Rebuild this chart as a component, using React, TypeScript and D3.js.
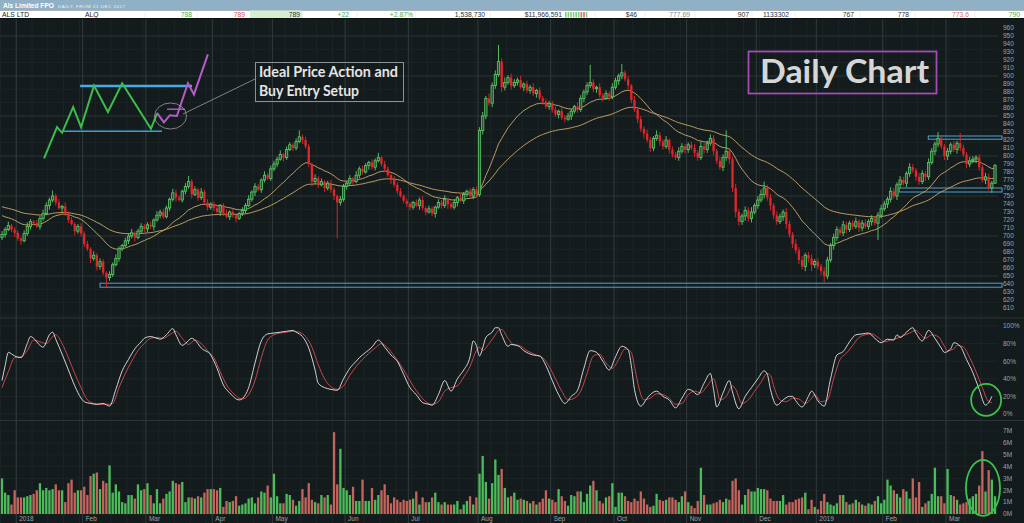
import * as d3 from "d3";

// ---- data ----
// first trading-day index of each month
const monthLabels = ["2018", "Feb", "Mar", "Apr", "May", "Jun", "Jul", "Aug", "Sep", "Oct", "Nov", "Dec", "2019", "Feb", "Mar"];
const monthStarts = [5, 26, 46, 67, 86, 109, 129, 151, 174, 194, 217, 239, 258, 279, 299];

const firstOpen = 698;
const closes = [
  // Dec 2017
  702, 708, 713, 708, 704,
  // Jan
  697, 694, 703, 712, 718, 716, 712, 722, 728, 738, 745, 750, 742, 735, 737, 728, 720, 715, 706, 712, 703,
  // Feb
  690, 684, 672, 676, 662, 668, 654, 648, 652, 664, 672, 684, 688, 694, 700, 704, 698, 706, 712, 709,
  // Mar
  714, 712, 720, 726, 730, 724, 735, 746, 754, 748, 745, 756, 762, 768, 752, 758, 748, 755, 742, 736, 740,
  // Apr
  735, 730, 738, 728, 724, 730, 726, 722, 728, 732, 738, 746, 755, 762, 758, 770, 776, 772, 784,
  // May
  790, 796, 802, 798, 808, 814, 810, 818, 824, 820, 812, 790, 768, 772, 764, 768, 760, 766, 758, 750, 742, 746, 762,
  // Jun
  766, 772, 768, 776, 784, 780, 788, 792, 786, 794, 798, 790, 784, 776, 770, 764, 756, 750, 744, 740,
  // Jul
  736, 742, 738, 745, 735, 730, 734, 728, 736, 742, 738, 746, 740, 736, 742, 748, 744, 752, 756, 750, 758, 752,
  // Aug
  832, 850, 872, 866, 888, 902, 918, 886, 892, 898, 888, 892, 895, 886, 890, 882, 886, 878, 882, 872, 868, 862, 866,
  // Sep
  858, 852, 856, 848, 846, 850, 856, 862, 858, 872, 880, 888, 892, 884, 886, 876, 872, 878, 874, 886,
  // Oct
  894, 900, 904, 896, 888, 870, 858, 846, 834, 828, 820, 810, 822, 826, 818, 812, 820, 808, 802, 798, 806, 812, 808,
  // Nov
  814, 810, 804, 798, 812, 808, 816, 822, 806, 794, 786, 798, 806, 796, 760, 730, 718, 725, 732, 722, 730, 738,
  // Dec
  745, 752, 760, 748, 738, 726, 718, 724, 730, 715, 702, 690, 682, 670, 662, 676, 672, 664, 668,
  // Jan 2019
  662, 656, 650, 670, 688, 698, 708, 704, 714, 708, 716, 712, 718, 710, 716, 712, 718, 722, 716, 726, 734,
  // Feb
  740, 746, 756, 750, 764, 770, 766, 778, 786, 782, 774, 768, 778, 774, 792, 806, 815, 822, 812, 800,
  // Mar
  806, 814, 808, 816, 810, 802, 790, 794, 796, 798, 786, 770, 774, 760, 766, 788,
];

// wick length above / below the candle body, in price units
const wickUp = [
  4, 3, 5, 2, 3,
  3, 2, 4, 5, 3, 2, 4, 3, 5, 4, 3, 7, 3, 4, 2, 5, 3, 4, 2, 3, 4,
  3, 4, 2, 5, 3, 4, 3, 2, 4, 3, 5, 3, 2, 4, 3, 5, 2, 3, 4, 3,
  3, 4, 2, 5, 3, 4, 3, 2, 5, 4, 3, 2, 4, 7, 3, 4, 2, 5, 3, 4, 2,
  3, 4, 2, 3, 5, 2, 4, 3, 2, 4, 3, 5, 2, 4, 3, 2, 5, 3, 4,
  4, 3, 5, 2, 4, 3, 2, 4, 8, 3, 4, 3, 2, 5, 3, 4, 2, 3, 4, 3, 2, 4, 3,
  3, 4, 2, 5, 3, 4, 3, 2, 4, 3, 6, 2, 4, 3, 2, 5, 3, 4, 2, 3,
  3, 2, 4, 3, 5, 2, 4, 3, 2, 4, 3, 5, 2, 3, 4, 2, 5, 3, 2, 4, 3, 4,
  4, 5, 3, 6, 4, 5, 21, 4, 6, 3, 5, 4, 3, 5, 2, 4, 3, 5, 2, 4, 3, 4, 3,
  3, 4, 2, 5, 3, 4, 3, 2, 5, 4, 3, 4, 22, 4, 2, 5, 3, 4, 3, 5,
  4, 3, 11, 3, 4, 2, 5, 3, 4, 3, 5, 4, 3, 6, 4, 3, 5, 2, 4, 3, 5, 4, 3,
  3, 4, 5, 3, 6, 4, 3, 5, 4, 3, 5, 4, 26, 4, 3, 5, 4, 3, 5, 4, 6, 3,
  5, 6, 8, 4, 5, 3, 5, 4, 3, 5, 4, 3, 6, 4, 5, 3, 4, 5, 3,
  4, 3, 5, 4, 3, 5, 4, 3, 5, 4, 3, 4, 5, 3, 4, 5, 3, 4, 3, 4, 5,
  4, 3, 5, 4, 3, 5, 4, 3, 5, 4, 3, 5, 4, 3, 5, 4, 3, 8, 4, 3,
  4, 3, 5, 3, 13, 4, 3, 5, 4, 3, 4, 3, 5, 4, 3, 2,
];
const wickDown = [
  3, 4, 2, 3, 5,
  3, 5, 2, 3, 4, 3, 2, 4, 3, 2, 5, 3, 4, 2, 5, 3, 4, 2, 5, 3, 4,
  4, 3, 6, 3, 5, 4, 3, 12, 4, 3, 2, 4, 3, 2, 4, 3, 5, 2, 3, 4,
  4, 3, 5, 2, 4, 3, 2, 4, 3, 5, 2, 3, 4, 3, 5, 2, 4, 3, 2, 4, 3,
  4, 2, 5, 3, 2, 4, 3, 5, 2, 3, 4, 2, 3, 5, 2, 4, 3, 2, 3,
  3, 4, 2, 5, 3, 2, 4, 3, 2, 5, 3, 4, 6, 3, 4, 2, 5, 3, 4, 5, 45, 4, 3,
  4, 3, 5, 2, 4, 3, 2, 5, 3, 4, 2, 3, 4, 2, 5, 3, 4, 2, 3, 4,
  4, 3, 2, 5, 3, 4, 2, 3, 5, 2, 4, 3, 6, 2, 3, 5, 2, 4, 3, 2, 4, 3,
  3, 5, 4, 3, 5, 4, 3, 6, 4, 3, 5, 3, 4, 2, 5, 3, 4, 3, 5, 2, 4, 3, 4,
  4, 3, 5, 3, 4, 2, 5, 3, 4, 3, 5, 4, 3, 4, 5, 3, 4, 2, 5, 3,
  3, 5, 4, 3, 5, 4, 3, 5, 4, 6, 3, 5, 4, 3, 5, 4, 3, 5, 4, 3, 4, 3, 5,
  4, 3, 5, 4, 3, 5, 4, 3, 5, 4, 3, 5, 4, 6, 5, 7, 5, 4, 6, 4, 5, 3,
  4, 3, 5, 4, 6, 5, 4, 3, 5, 6, 4, 5, 4, 5, 4, 6, 5, 8, 4,
  4, 5, 8, 4, 3, 5, 4, 3, 4, 5, 3, 4, 3, 5, 4, 3, 4, 5, 3, 21, 4,
  3, 5, 4, 3, 5, 4, 3, 5, 4, 3, 5, 4, 3, 5, 4, 3, 5, 4, 3, 5,
  5, 4, 3, 5, 4, 3, 5, 4, 3, 5, 4, 3, 5, 3, 6, 1,
];

// volume, millions of shares
const volumes = [
  3.0, 1.8, 1.6, 0.8, 2.0,
  1.4, 1.4, 1.4, 1.5, 1.6, 1.7, 2.0, 2.6, 2.0, 2.2, 2.0, 2.1, 2.5, 2.0, 2.0, 1.0, 2.6, 2.9, 1.8, 2.0, 2.0,
  2.3, 1.6, 3.2, 3.4, 3.5, 2.1, 2.8, 2.6, 4.1, 1.8, 2.5, 1.9, 1.0, 0.9, 1.6, 1.6, 1.3, 2.5, 2.0, 2.1,
  2.6, 1.6, 0.9, 2.1, 0.9, 1.3, 1.7, 1.9, 2.8, 2.6, 2.5, 2.7, 1.0, 1.4, 1.4, 1.3, 1.5, 1.4, 1.8, 2.1, 2.1,
  2.1, 2.0, 2.2, 0.6, 1.1, 1.0, 1.1, 1.5, 0.7, 0.8, 0.9, 1.3, 1.4, 0.9, 1.4, 1.9, 1.8, 2.4, 1.4,
  3.4, 1.5, 0.9, 0.9, 1.7, 1.6, 1.2, 0.7, 1.1, 2.1, 1.4, 2.6, 1.2, 1.0, 0.9, 1.6, 1.4, 1.6, 0.8, 6.9, 2.5, 5.5, 2.2,
  2.0, 1.6, 2.3, 1.1, 1.1, 2.9, 1.1, 1.1, 2.2, 1.2, 1.6, 2.0, 2.5, 1.6, 0.9, 1.4, 1.2, 1.0, 1.2, 1.1,
  1.2, 1.3, 1.9, 0.8, 1.4, 1.0, 1.0, 1.4, 1.8, 1.0, 0.8, 1.0, 0.8, 0.8, 0.8, 1.1, 0.4, 0.8, 1.1, 1.5, 0.8, 1.4,
  3.4, 4.9, 2.7, 1.3, 2.6, 4.6, 3.3, 3.8, 2.2, 1.4, 1.5, 1.8, 1.2, 1.3, 1.2, 1.1, 0.9, 1.1, 0.8, 1.0, 1.3, 2.0, 1.3,
  1.2, 1.0, 2.1, 1.5, 1.1, 0.7, 1.6, 1.5, 1.9, 1.9, 1.0, 1.7, 2.4, 2.8, 2.0, 1.1, 0.9, 1.4, 1.5, 2.6,
  0.6, 1.8, 1.8, 1.5, 1.1, 1.0, 1.3, 1.1, 1.9, 1.3, 0.8, 0.6, 0.7, 1.7, 1.2, 1.1, 1.2, 1.4, 1.4, 1.2, 1.0, 1.5, 1.9,
  1.0, 0.7, 0.5, 1.1, 3.9, 1.6, 0.8, 0.8, 0.9, 1.0, 1.2, 1.0, 1.3, 1.2, 2.8, 3.0, 2.0, 0.8, 1.6, 2.1, 1.9, 1.9,
  2.2, 2.1, 2.1, 2.0, 1.3, 1.1, 1.1, 1.1, 1.6, 0.8, 1.0, 1.0, 1.2, 1.3, 1.4, 1.8, 0.4, 1.2, 0.6,
  0.4, 1.1, 1.7, 1.0, 0.8, 0.7, 0.9, 1.6, 1.6, 1.0, 0.8, 0.9, 1.2, 1.0, 0.8, 0.7, 0.9, 0.8, 1.1, 1.5, 0.9,
  1.2, 2.9, 2.4, 2.0, 1.7, 1.4, 2.1, 1.9, 1.3, 3.0, 1.4, 2.7, 0.6, 0.9, 1.1, 1.7, 3.9, 1.5, 1.5, 0.9,
  3.8, 1.6, 1.5, 1.2, 0.8, 0.9, 1.0, 1.3, 1.5, 1.7, 2.4, 5.3, 1.9, 3.7, 2.9, 1.5,
];

// moving averages carried in from before the first bar
const fastSeed = 728;
const slowSeed = 738;

// slow stochastic, [day index, %]
const stochK = [
  [0, 38], [1, 55], [2, 70], [4, 66], [6, 64], [8, 80], [9, 88], [10, 86], [12, 78], [13, 76], [15, 90], [16, 93], [17, 85],
  [19, 68], [21, 50], [23, 32], [25, 18], [26, 14], [28, 12], [30, 11], [32, 12], [34, 9], [36, 28], [38, 49], [40, 62],
  [42, 74], [44, 82], [45, 86], [47, 88], [49, 86], [50, 85], [52, 90], [54, 97], [55, 90], [57, 78], [58, 80], [60, 86],
  [61, 84], [63, 75], [66, 67], [68, 52], [70, 33], [72, 24], [75, 16], [77, 22], [78, 30], [80, 58], [82, 83], [84, 91],
  [86, 92], [88, 93], [90, 94], [92, 95], [93, 93], [95, 88], [97, 75], [99, 50], [100, 35], [102, 30], [104, 28], [106, 27],
  [108, 40], [110, 52], [112, 60], [113, 64], [115, 70], [117, 76], [119, 84], [121, 76], [123, 67], [125, 60], [127, 45],
  [129, 30], [131, 22], [133, 13], [135, 11], [136, 10], [138, 22], [140, 38], [142, 26], [144, 40], [146, 50], [148, 65],
  [149, 83], [150, 78], [151, 66], [152, 75], [153, 87], [155, 93], [156, 98], [157, 98], [158, 90], [160, 77], [161, 79],
  [163, 78], [165, 72], [168, 67], [170, 66], [172, 55], [174, 38], [176, 22], [178, 12], [180, 20], [182, 27], [184, 52],
  [186, 72], [188, 70], [190, 60], [192, 50], [194, 65], [196, 77], [198, 73], [199, 55], [200, 28], [202, 9], [204, 18],
  [205, 22], [207, 26], [209, 20], [211, 16], [213, 7], [215, 18], [217, 28], [218, 27], [220, 22], [222, 35], [224, 46],
  [225, 28], [226, 8], [228, 24], [230, 38], [231, 25], [233, 6], [235, 20], [237, 30], [239, 40], [241, 49], [242, 45],
  [243, 28], [245, 10], [247, 16], [249, 20], [250, 20], [251, 15], [253, 8], [255, 20], [256, 26], [258, 15], [260, 9],
  [262, 40], [264, 67], [266, 71], [268, 82], [270, 90], [272, 91], [274, 92], [276, 86], [278, 81], [280, 85], [282, 84],
  [283, 90], [284, 87], [286, 93], [288, 98], [289, 92], [291, 83], [293, 95], [295, 86], [297, 75], [298, 70], [300, 74],
  [301, 81], [303, 77], [305, 62], [307, 47], [309, 28], [311, 10], [312, 13], [313, 20],
];
const stochD = [
  [0, 30], [2, 48], [4, 64], [6, 65], [8, 72], [10, 84], [12, 82], [14, 80], [16, 88], [17, 90], [19, 80], [21, 64], [23, 46],
  [25, 30], [27, 16], [29, 12], [31, 11], [33, 11], [35, 12], [37, 30], [39, 46], [41, 60], [43, 72], [45, 80], [47, 86],
  [49, 87], [51, 86], [53, 90], [55, 94], [57, 86], [59, 79], [61, 84], [63, 80], [65, 72], [67, 64], [69, 48], [71, 33],
  [73, 24], [76, 17], [78, 22], [80, 38], [82, 64], [84, 84], [86, 90], [88, 92], [90, 93], [92, 94], [94, 93], [96, 88],
  [98, 76], [100, 56], [102, 40], [104, 31], [106, 28], [108, 32], [110, 44], [112, 54], [114, 62], [116, 69], [118, 75],
  [120, 80], [122, 75], [124, 66], [126, 56], [128, 44], [130, 32], [132, 22], [134, 14], [136, 11], [138, 14], [140, 26],
  [142, 30], [144, 32], [146, 42], [148, 54], [150, 72], [151, 76], [152, 72], [154, 80], [156, 90], [157, 95], [158, 96],
  [160, 86], [162, 78], [164, 77], [166, 72], [169, 67], [171, 64], [173, 54], [175, 40], [177, 26], [179, 16], [181, 18],
  [183, 26], [185, 46], [187, 66], [189, 68], [191, 58], [193, 52], [195, 62], [197, 74], [199, 70], [200, 54], [201, 36],
  [203, 16], [205, 18], [207, 23], [209, 22], [211, 18], [213, 11], [215, 12], [217, 22], [219, 26], [221, 24], [223, 32],
  [225, 40], [226, 30], [227, 16], [229, 20], [231, 32], [232, 28], [234, 12], [236, 16], [238, 26], [240, 36], [242, 46],
  [243, 44], [244, 32], [246, 16], [248, 14], [250, 18], [252, 17], [254, 12], [256, 18], [257, 22], [259, 14], [261, 16],
  [263, 40], [265, 62], [267, 69], [269, 78], [271, 87], [273, 90], [275, 91], [277, 87], [279, 82], [281, 84], [283, 86],
  [285, 89], [287, 92], [289, 95], [290, 92], [292, 86], [294, 90], [296, 88], [298, 77], [299, 72], [301, 74], [302, 78],
  [304, 76], [306, 64], [308, 48], [310, 30], [312, 14], [313, 13],
];

// hand-drawn "ideal setup" sketch, [day index, price]
const idealGreen = [[13.3, 797], [17.4, 836], [19, 829], [22.5, 861], [25, 836], [29.1, 888], [33.5, 855], [38, 891], [47.1, 834], [49, 853]];
const idealPurple = [[49, 854], [51.2, 842], [53.1, 851], [55.3, 850], [58.8, 891], [60.7, 877], [65.1, 927]];
const idealResistance = { from: 24.7, to: 60.1, price: 887.5 };
const idealSupport = { from: 19.3, to: 50.6, price: 831 };
const idealEntry = { from: 52.2, to: 57.9, price: 858.5 };

// support / resistance zones, [start day, top, bottom]
const zones = [
  [31, 641, 636],
  [292.9, 825, 821],
  [283.7, 760, 755],
];

const priceTicks = d3.range(610, 961, 10);
const stochTicks = [0, 20, 40, 60, 80, 100];
const volTicks = [0, 1, 2, 3, 4, 5, 6, 7];

// quote strip across the top
const quoteCells = [
  { t: "788", x: 192, c: "#4cae4c" },
  { t: "789", x: 245, c: "#d9534f" },
  { t: "789", x: 300, c: "#333" },
  { t: "+22", x: 349, c: "#4cae4c" },
  { t: "+2.87%", x: 413, c: "#4cae4c" },
  { t: "1,538,730", x: 485, c: "#333" },
  { t: "$11,966,591", x: 562, c: "#333" },
  { t: "$46", x: 637, c: "#333" },
  { t: "777.69", x: 690, c: "#8a8a8a" },
  { t: "907", x: 749, c: "#333" },
  { t: "1133302", x: 789, c: "#333" },
  { t: "767", x: 854, c: "#333" },
  { t: "778", x: 909, c: "#333" },
  { t: "773.6", x: 969, c: "#e07070" },
  { t: "790", x: 1020, c: "#4cae4c" },
];
const quoteBars = ["g", "g", "g", "g", "g", "g", "r", "r", "g"];

function ema(values: number[], period: number, seed: number) {
  const k = 2 / (period + 1);
  let prev = seed;
  return values.map((v) => (prev = prev + k * (v - prev)));
}

const BG = "#141b1d";
const AXIS_TEXT = "#9aa3a6";
const UP = "#5ccc68";
const DOWN = "#e3262b";

export default function App() {
  const n = closes.length;
  const x = d3.scaleLinear().domain([0, n - 1]).range([2, 995]);
  const yP = d3.scaleLinear().domain([610, 960]).range([308, 28]);
  const yS = d3.scaleLinear().domain([0, 100]).range([414, 326]);
  const yV = d3.scaleLinear().domain([0, 7]).range([514, 431]);
  const step = x(1) - x(0);
  const bw = 2.3;

  const opens = closes.map((c, i) => (i === 0 ? firstOpen : closes[i - 1]));
  const highs = closes.map((c, i) => Math.max(c, opens[i]) + wickUp[i]);
  const lows = closes.map((c, i) => Math.min(c, opens[i]) - wickDown[i]);

  const maLine = d3
    .line<number>()
    .x((d, i) => x(i))
    .y((d) => yP(d));
  const fast = ema(closes, 20, fastSeed);
  const slow = ema(closes, 50, slowSeed);

  const stochLine = d3
    .line<number[]>()
    .x((d) => x(d[0]))
    .y((d) => yS(d[1]))
    .curve(d3.curveMonotoneX);

  const sketchLine = d3
    .line<number[]>()
    .x((d) => x(d[0]))
    .y((d) => yP(d[1]));

  const weekLines = d3.range(0, n, 5);
  const minorPrice = d3.range(600, 960, 50 / 3);

  return (
    <svg
      width={1024}
      height={523}
      style={{ position: "absolute", left: 0, top: 0, background: BG }}
      fontFamily="Liberation Sans, Arial, sans-serif"
    >
      <rect x={0} y={0} width={1024} height={523} fill={BG} />

      {/* grid */}
      <g>
        {weekLines.map((i) => (
          <line key={"w" + i} x1={x(i) - step / 2} x2={x(i) - step / 2} y1={19} y2={523} stroke="#1c2426" strokeWidth={1} />
        ))}
        {minorPrice.map((p) => (
          <line key={"mp" + p} x1={0} x2={998} y1={yP(p)} y2={yP(p)} stroke="#1c2426" strokeWidth={1} />
        ))}
        {d3.range(650, 960, 50).map((p) => (
          <line key={"p" + p} x1={0} x2={998} y1={yP(p)} y2={yP(p)} stroke="#283133" strokeWidth={1} />
        ))}
        {stochTicks.map((s) => (
          <line key={"s" + s} x1={0} x2={998} y1={yS(s)} y2={yS(s)} stroke="#1e2628" strokeWidth={1} />
        ))}
        {volTicks.map((v) => (
          <line key={"v" + v} x1={0} x2={998} y1={yV(v)} y2={yV(v)} stroke="#1b2325" strokeWidth={1} />
        ))}
        {monthStarts.map((i) => (
          <line key={"m" + i} x1={x(i) - step / 2} x2={x(i) - step / 2} y1={19} y2={523} stroke="#323c3e" strokeWidth={1} />
        ))}
        <line x1={0} x2={1024} y1={318} y2={318} stroke="#2c3537" />
        <line x1={0} x2={1024} y1={420.5} y2={420.5} stroke="#2c3537" />
      </g>

      {/* support / resistance zones */}
      {zones.map((z, k) => (
        <rect
          key={"z" + k}
          x={x(z[0])}
          y={yP(z[1])}
          width={1002 - x(z[0])}
          height={yP(z[2]) - yP(z[1])}
          fill="none"
          stroke="#4da3cf"
          strokeWidth={1}
        />
      ))}

      {/* moving averages */}
      <path d={maLine(slow) ?? ""} fill="none" stroke="#c9a86a" strokeWidth={0.9} />
      <path d={maLine(fast) ?? ""} fill="none" stroke="#c9a86a" strokeWidth={0.9} />

      {/* candles */}
      <g>
        {closes.map((c, i) => {
          const o = opens[i];
          const up = c >= o;
          const top = yP(Math.max(o, c));
          const h = Math.max(0.8, yP(Math.min(o, c)) - top);
          return (
            <g key={"c" + i}>
              <line x1={x(i)} x2={x(i)} y1={yP(highs[i])} y2={yP(lows[i])} stroke={up ? UP : DOWN} strokeWidth={0.9} />
              <rect
                x={x(i) - bw / 2}
                y={top}
                width={bw}
                height={h}
                fill={up ? "#2a5230" : DOWN}
                stroke={up ? UP : "none"}
                strokeWidth={0.8}
              />
            </g>
          );
        })}
      </g>

      {/* stochastic */}
      <path d={stochLine(stochD) ?? ""} fill="none" stroke="#c8464a" strokeWidth={1} />
      <path d={stochLine(stochK) ?? ""} fill="none" stroke="#e6e6e6" strokeWidth={0.9} />

      {/* volume */}
      <g>
        {volumes.map((v, i) => (
          <rect
            key={"v" + i}
            x={x(i) - bw / 2}
            y={yV(v)}
            width={bw}
            height={yV(0) - yV(v)}
            fill={closes[i] >= opens[i] ? "#4cbc5a" : "#c5645c"}
          />
        ))}
      </g>

      {/* axes */}
      <g fontSize={6.5} fill={AXIS_TEXT}>
        {priceTicks.map((p) => (
          <text key={"pt" + p} x={1003} y={yP(p) + 2.3}>
            {p}
          </text>
        ))}
        {stochTicks.map((s) => (
          <text key={"st" + s} x={1003} y={yS(s) + 2.3}>
            {s}%
          </text>
        ))}
        {volTicks.map((v) => (
          <text key={"vt" + v} x={1003} y={yV(v) + 2.3}>
            {v}M
          </text>
        ))}
        {monthStarts.map((i, k) => (
          <text key={"ml" + i} x={x(i) - step / 2 + 3} y={521}>
            {monthLabels[k]}
          </text>
        ))}
      </g>

      {/* ideal setup sketch */}
      <line x1={x(idealSupport.from)} x2={x(idealSupport.to)} y1={yP(idealSupport.price)} y2={yP(idealSupport.price)} stroke="#3d9fd6" strokeWidth={1.6} />
      <line x1={x(idealResistance.from)} x2={x(idealResistance.to)} y1={yP(idealResistance.price)} y2={yP(idealResistance.price)} stroke="#46ace6" strokeWidth={2.6} />
      <path d={sketchLine(idealGreen) ?? ""} fill="none" stroke="#3cbc4c" strokeWidth={2} strokeLinejoin="miter" />
      <line x1={x(idealEntry.from)} x2={x(idealEntry.to)} y1={yP(idealEntry.price)} y2={yP(idealEntry.price)} stroke="#b45cc8" strokeWidth={1.4} />
      <path d={sketchLine(idealPurple) ?? ""} fill="none" stroke="#b45cc8" strokeWidth={2} />
      <ellipse cx={x(53.3)} cy={yP(850)} rx={16} ry={13} fill="none" stroke="#9a9a9a" strokeWidth={0.8} />
      <line x1={183} y1={114} x2={255} y2={79} stroke="#9a9a9a" strokeWidth={0.8} />
      <rect x={255.5} y={62.5} width={148} height={39} fill="none" stroke="#8e9294" strokeWidth={1} />
      <g fontFamily="Lato, 'Open Sans', sans-serif" fontWeight={700} fontSize={14.5} fill="#e4e4e4">
        <text x={259} y={77} textLength={139} lengthAdjust="spacingAndGlyphs">
          Ideal Price Action and
        </text>
        <text x={259} y={96} textLength={100} lengthAdjust="spacingAndGlyphs">
          Buy Entry Setup
        </text>
      </g>

      {/* title box */}
      <rect x={748.5} y={51.5} width={188} height={42} fill="none" stroke="#a24db4" strokeWidth={1.8} />
      <text
        x={760}
        y={83}
        fontFamily="Lato, 'Open Sans', sans-serif"
        fontWeight={700}
        fontSize={33}
        fill="#d6d6d6"
        textLength={169}
        lengthAdjust="spacingAndGlyphs"
      >
        Daily Chart
      </text>

      {/* highlight circles */}
      <ellipse cx={x(311.2)} cy={yS(16)} rx={15} ry={16} fill="none" stroke="#3cc24c" strokeWidth={1.8} />
      <ellipse cx={x(310.2)} cy={yV(2.2)} rx={17} ry={28} fill="none" stroke="#3cc24c" strokeWidth={1.8} />

      {/* header */}
      <rect x={0} y={0} width={1024} height={10.5} fill="#8fb0c5" />
      <text x={3} y={8} fontSize={6.6} fontWeight={700} fill="#ffffff">
        Als Limited FPO
      </text>
      <text x={58} y={7.6} fontSize={4.4} fill="#eef3f6" letterSpacing={0.55}>
        DAILY, FROM 21 DEC 2017
      </text>
      <rect x={0} y={10.5} width={1024} height={8} fill="#ffffff" />
      <rect x={250} y={10.5} width={52} height={8} fill="#d3efcf" />
      {[145, 197, 248, 303, 357, 415, 490, 595, 645, 695, 752, 795, 860, 915, 975].map((sx) => (
        <line key={"sep" + sx} x1={sx} x2={sx} y1={11} y2={18} stroke="#ececec" strokeWidth={0.8} />
      ))}
      <g fontSize={6.8}>
        <text x={2} y={16.8} fill="#222">
          ALS LTD
        </text>
        <text x={85} y={16.8} fill="#222">
          ALQ
        </text>
        {quoteCells.map((q, k) => (
          <text key={"q" + k} x={q.x} y={16.8} fill={q.c} textAnchor="end">
            {q.t}
          </text>
        ))}
      </g>
      {quoteBars.map((b, k) => (
        <rect key={"qb" + k} x={565 + k * 2.6} y={12} width={1.6} height={5.5} fill={b === "g" ? "#6cc46c" : "#d05050"} opacity={0.85} />
      ))}
      <line x1={0} x2={1024} y1={18.5} y2={18.5} stroke="#0c1112" />
    </svg>
  );
}
